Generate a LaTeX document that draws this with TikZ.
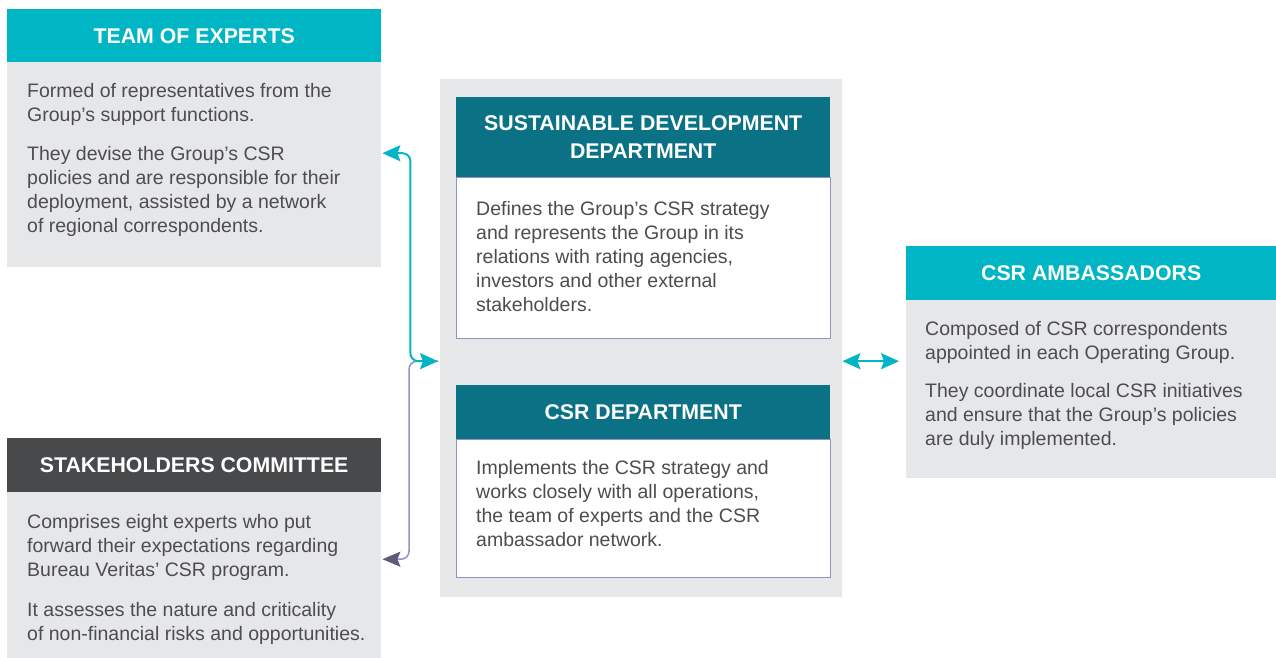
\documentclass[tikz,border=0pt]{standalone}
\usepackage{fontspec}
\setmainfont{Liberation Sans}
\usepackage{tikz}
\usetikzlibrary{arrows.meta}

\definecolor{csrcyan}{HTML}{00B5C4}
\definecolor{csrteal}{HTML}{0B7285}
\definecolor{charcoal}{HTML}{48494B}
\definecolor{panelgray}{HTML}{E6E7E9}
\definecolor{inkgray}{HTML}{4D4D4F}
\definecolor{lavender}{HTML}{9690C4}
\definecolor{tipgray}{HTML}{5E5B7A}

\begin{document}
\begin{tikzpicture}[x=1pt, y=-1pt,
  head/.style={rectangle, anchor=north west, inner sep=0pt, minimum width=374pt,
               minimum height=54pt, align=center, text=white,
               font=\fontsize{21.3}{27.3}\selectfont\bfseries},
  panel/.style={rectangle, anchor=north west, inner sep=0pt, minimum width=374pt,
                fill=panelgray},
  blurb/.style={anchor=base west, inner sep=0pt, align=left, text=inkgray,
                font=\fontsize{19.5}{24}\selectfont},
  link/.style={line width=2pt, rounded corners=8pt, color=csrcyan,
               {Stealth[length=18pt,width=16pt,inset=3pt]}-{Stealth[length=18pt,width=16pt,inset=3pt]}},
  sublink/.style={line width=1.5pt, rounded corners=8pt, color=lavender,
                  -{Stealth[length=18pt,width=15pt,inset=3pt,color=tipgray]}}
]
\useasboundingbox (0,0) rectangle (1276,658);

%% Central block
\node[rectangle, fill=panelgray, anchor=north west, inner sep=0pt,
      minimum width=402pt, minimum height=518pt] at (440,79) (centre) {};

%% Panels — fixed coordinates
\node[panel, minimum height=205pt] at (7,62)  (expbody) {};
\node[panel, minimum height=166pt] at (7,492) (stkbody) {};
\node[panel, fill=white, draw=lavender, line width=1.2pt, minimum height=161pt] at (456,177) (sdbody) {};
\node[panel, fill=white, draw=lavender, line width=1.2pt, minimum height=138pt] at (456,439) (csrbody) {};
\node[panel, minimum width=370pt, minimum height=178pt] at (906,300) (ambbody) {};

%% Headers
\node[head, fill=csrcyan, minimum height=53pt] at (7,9)  (exphead) {TEAM OF EXPERTS};
\node[head, fill=charcoal] at (7,438)   (stkhead) {STAKEHOLDERS COMMITTEE};
\node[head, fill=csrteal, minimum height=80pt] at (456,97) (sdhead) {SUSTAINABLE DEVELOPMENT\\DEPARTMENT};
\node[head, fill=csrteal] at (456,385)  (csrhead) {CSR DEPARTMENT};
\node[head, fill=csrcyan, minimum width=370pt] at (906,246) (ambhead) {CSR AMBASSADORS};

%% Texts (base = last line)
\node[blurb] at (27,232.7) (expnote) {Formed of representatives from the\\
  Group’s support functions.\\[15pt]
  They devise the Group’s CSR\\
  policies and are responsible for their\\
  deployment, assisted by a network\\
  of regional correspondents.};
\node[blurb] at (27,640) (stknote) {Comprises eight experts who put\\
  forward their expectations regarding\\
  Bureau Veritas’ CSR program.\\[16pt]
  It assesses the nature and criticality\\
  of non-financial risks and opportunities.};
\node[blurb] at (476,311) (sdnote) {Defines the Group’s CSR strategy\\
  and represents the Group in its\\
  relations with rating agencies,\\
  investors and other external\\
  stakeholders.};
\node[blurb] at (476,546.7) (csrnote) {Implements the CSR strategy and\\
  works closely with all operations,\\
  the team of experts and the CSR\\
  ambassador network.};
\node[blurb] at (925,445) (ambnote) {Composed of CSR correspondents\\
  appointed in each Operating Group.\\[14pt]
  They coordinate local CSR initiatives\\
  and ensure that the Group’s policies\\
  are duly implemented.};

%% Connectors
\coordinate (hub) at ([xshift=-2pt, yshift=-23pt]centre.west);
\draw[sublink] (hub) -- ++(-29,0) |- ([xshift=1pt, yshift=16pt]stkbody.east);
\draw[link] ([xshift=1pt, yshift=11.5pt]expbody.east) -- ++(28,0) |- (hub);
\draw[link] (centre.east |- hub) -- ([xshift=-7pt]ambbody.west |- hub);
\end{tikzpicture}
\end{document}
